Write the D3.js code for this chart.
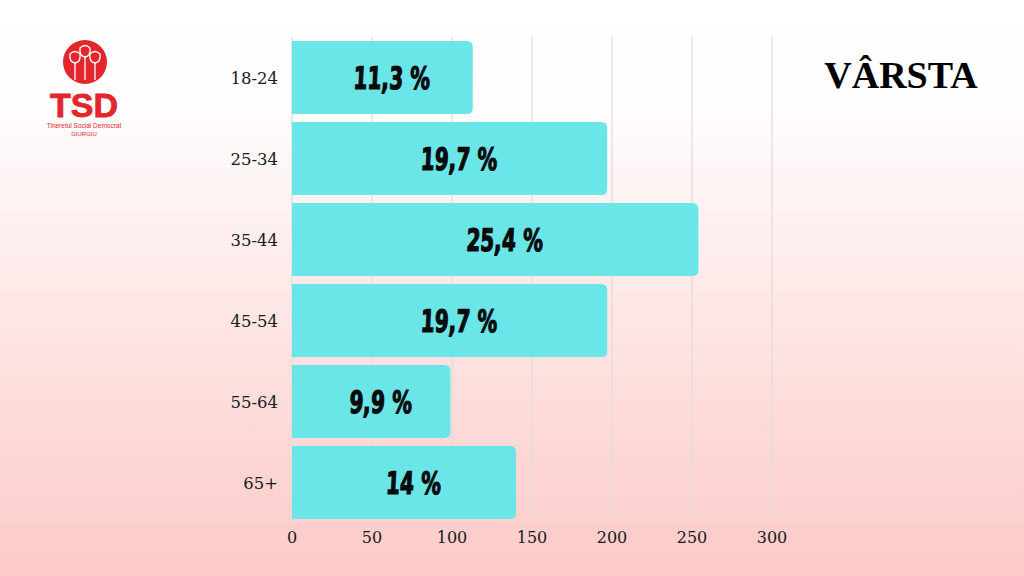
<!DOCTYPE html>
<html><head><meta charset="utf-8">
<script src="https://cdn.jsdelivr.net/npm/d3@7"></script>
<style>html,body{margin:0;padding:0;overflow:hidden;}</style>
</head><body>
<script>
const categories = ["18-24","25-34","35-44","45-54","55-64","65+"];
const values = [113,197,254,197,99,140];
const labels = ["11,3 %","19,7 %","25,4 %","19,7 %","9,9 %","14 %"];
const ticks = [0,50,100,150,200,250,300];
const title = "VÂRSTA";

const W=1024,H=576;
const svg=d3.select("body").append("svg").attr("width",W).attr("height",H);
const defs=svg.append("defs");
const g=defs.append("linearGradient").attr("id","bg").attr("x1",0).attr("y1",0).attr("x2",0).attr("y2",1);
g.append("stop").attr("offset","0%").attr("stop-color","#ffffff");
g.append("stop").attr("offset","20%").attr("stop-color","#fefcfc");
g.append("stop").attr("offset","100%").attr("stop-color","#fccac7");
svg.append("rect").attr("width",W).attr("height",H).attr("fill","url(#bg)");

const x=d3.scaleLinear().domain([0,300]).range([292,772]);
const y=d3.scaleBand().domain(categories).range([37,523]).paddingInner(0.1).paddingOuter(0.05);

// grid
svg.append("g").selectAll("line").data(ticks).join("line")
  .attr("x1",d=>x(d)).attr("x2",d=>x(d)).attr("y1",37).attr("y2",520)
  .attr("stroke","#e2dcdc").attr("stroke-width",1.3);

// bars with rounded right corners
const r=6;
svg.append("g").selectAll("path").data(categories).join("path")
  .attr("d",(c,i)=>{const x0=x(0),x1=x(values[i]),y0=y(c),h=y.bandwidth();
    return `M${x0},${y0}H${x1-r}Q${x1},${y0} ${x1},${y0+r}V${y0+h-r}Q${x1},${y0+h} ${x1-r},${y0+h}H${x0}Z`;})
  .attr("fill","#6ae6e8");

// bar labels (condensed brush-like look via horizontal scale)
svg.append("g").selectAll("text").data(categories).join("text")
  .attr("transform",(c,i)=>`translate(${(x(0)+x(values[i]))/2+9},${y(c)+y.bandwidth()/2+11}) scale(0.72,1) skewX(-4)`)
  .attr("text-anchor","middle")
  .attr("font-family","'DejaVu Sans Condensed','DejaVu Sans',sans-serif")
  .attr("font-weight","bold")
  .attr("font-size",31).attr("fill","#0a0a0a")
  .attr("stroke","#0a0a0a").attr("stroke-width",1.2)
  .text((c,i)=>labels[i]);

// category labels
svg.append("g").selectAll("text").data(categories).join("text")
  .attr("x",278).attr("y",c=>y(c)+y.bandwidth()/2+6)
  .attr("text-anchor","end")
  .attr("font-family","'DejaVu Serif',serif").attr("font-size",16.5).attr("fill","#1a1a1a")
  .text(c=>c);

// x tick labels
svg.append("g").selectAll("text").data(ticks).join("text")
  .attr("x",d=>x(d)).attr("y",543).attr("text-anchor","middle")
  .attr("font-family","'DejaVu Serif',serif").attr("font-size",16).attr("fill","#1a1a1a")
  .text(d=>d);

// title
svg.append("text").attr("x",901).attr("y",88).attr("text-anchor","middle")
  .attr("font-family","'Liberation Serif','DejaVu Serif',serif").attr("font-weight","bold")
  .attr("font-size",38).attr("fill","#000").text(title);

// logo
const lg=svg.append("g");
lg.append("circle").attr("cx",85).attr("cy",62).attr("r",22).attr("fill","#e3262b");
[[75,58],[85,52],[95,58]].forEach(([cx,cy])=>{
  lg.append("path").attr("d",`M${cx-5},${cy-4}Q${cx},${cy-9} ${cx+5},${cy-4}Q${cx+6},${cy+4} ${cx},${cy+5}Q${cx-6},${cy+4} ${cx-5},${cy-4}Z`)
    .attr("fill","none").attr("stroke","#fff").attr("stroke-width",1.3);
  lg.append("line").attr("x1",cx).attr("y1",cy+5).attr("x2",cx).attr("y2",80).attr("stroke","#fff").attr("stroke-width",1.3);
});
lg.append("text").attr("x",84).attr("y",117).attr("text-anchor","middle")
  .attr("font-family","'Liberation Sans',Arial,sans-serif").attr("font-weight","bold")
  .attr("font-size",34).attr("fill","#e3262b").attr("stroke","#e3262b").attr("stroke-width",0.8).text("TSD");
lg.append("text").attr("x",84).attr("y",128).attr("text-anchor","middle")
  .attr("font-family","'Liberation Sans',Arial,sans-serif").attr("font-size",6.5).attr("fill","#e3262b").text("Tineretul Social Democrat");
lg.append("text").attr("x",84).attr("y",136).attr("text-anchor","middle")
  .attr("font-family","'Liberation Sans',Arial,sans-serif").attr("font-size",6).attr("fill","#e3262b").text("GIURGIU");
</script>
</body></html>
